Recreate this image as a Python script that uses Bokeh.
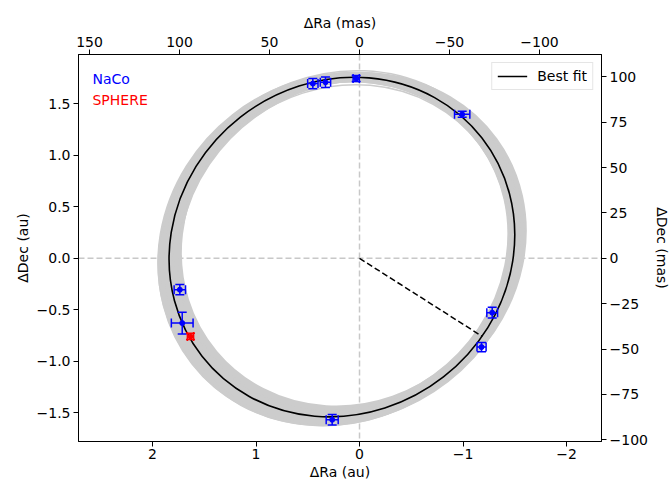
import math
from bokeh.plotting import figure
from bokeh.models import (Range1d, LinearAxis, FixedTicker, Whisker, ColumnDataSource,
                          Span, TeeHead, Legend, LegendItem)
from bokeh.embed import file_html
from bokeh.resources import INLINE
from bokeh.core.properties import value

# ---------------- data ----------------
naco_ra = [0.451, 0.329, 0.032, -0.992, -1.282, -1.179, 0.264, 1.736, 1.713]
naco_dec = [1.696, 1.709, 1.745, 1.398, -0.527, -0.861, -1.566, -0.304, -0.628]
naco_ra_err = [0.050, 0.050, 0.030, 0.074, 0.052, 0.044, 0.058, 0.055, 0.105]
naco_dec_err = [0.050, 0.050, 0.030, 0.030, 0.052, 0.044, 0.050, 0.050, 0.105]

sphere_ra = [1.633]
sphere_dec = [-0.757]
sphere_ra_err = [0.030]
sphere_dec_err = [0.030]

# best-fit projected orbit (ellipse: centre, major/minor full axes, tilt in degrees)
best_x = [0.17]
best_y = [0.11]
best_w = [3.43]
best_h = [3.20]
best_angle = [38]

# ensemble of sampled orbits (projected ellipses)
ens_x = [0.17, 0.22, 0.12, 0.20, 0.10, 0.14, 0.19, 0.15]
ens_y = [0.11, 0.10, 0.13, 0.09, 0.12, 0.14, 0.12, 0.10]
ens_w = [3.43, 3.50, 3.36, 3.54, 3.46, 3.30, 3.40, 3.52]
ens_h = [3.20, 3.22, 3.18, 3.24, 3.16, 3.14, 3.16, 3.22]
ens_angle = [38, 38, 38, 38, 36, 40, 36, 38]

thin_x = [0.15, 0.19]
thin_y = [0.10, 0.10]
thin_w = [3.30, 3.62]
thin_h = [3.08, 3.30]
thin_angle = [38, 40]

# line from the star to periastron
peri_ra = [0.0, -1.187]
peri_dec = [0.0, -0.758]

# axes ticks
au_x_ticks = [2, 1, 0, -1, -2]
au_x_labels = ["2", "1", "0", "\u22121", "\u22122"]
au_y_ticks = [-1.5, -1.0, -0.5, 0.0, 0.5, 1.0, 1.5]
au_y_labels = ["\u22121.5", "\u22121.0", "\u22120.5", "0.0", "0.5", "1.0", "1.5"]
mas_x_ticks = [150, 100, 50, 0, -50, -100]
mas_x_labels = ["150", "100", "50", "0", "\u221250", "\u2212100"]
mas_y_ticks = [100, 75, 50, 25, 0, -25, -50, -75, -100]
mas_y_labels = ["100", "75", "50", "25", "0", "\u221225", "\u221250", "\u221275", "\u2212100"]

x_lim = (2.715, -2.338)
y_lim = (-1.777, 1.978)
mas_per_au_x = 57.5
mas_per_au_y = 56.8

FONT = "DejaVu Sans"
FS = "14px"

p = figure(width=672, height=484, output_backend="svg", toolbar_location=None,
           x_range=Range1d(*x_lim), y_range=Range1d(*y_lim),
           min_border_left=78, min_border_right=71, min_border_top=54, min_border_bottom=43)
p.extra_x_ranges = {"mas_x": Range1d(x_lim[0] * mas_per_au_x, x_lim[1] * mas_per_au_x)}
p.extra_y_ranges = {"mas_y": Range1d(y_lim[0] * mas_per_au_y, y_lim[1] * mas_per_au_y)}
p.xgrid.visible = False
p.ygrid.visible = False
p.outline_line_color = "black"
p.background_fill_color = "white"
p.border_fill_color = "white"

bottom_ax = p.below[0]
left_ax = p.left[0]
top_ax = LinearAxis(x_range_name="mas_x")
right_ax = LinearAxis(y_range_name="mas_y")
p.add_layout(top_ax, "above")
p.add_layout(right_ax, "right")

def style(ax, ticks, labels, label, std=3):
    ax.ticker = FixedTicker(ticks=ticks)
    ax.major_label_overrides = {t: l for t, l in zip(ticks, labels)}
    ax.axis_label = label
    ax.axis_label_text_font = FONT
    ax.axis_label_text_font_size = FS
    ax.axis_label_text_font_style = "normal"
    ax.axis_label_text_color = "black"
    ax.major_label_text_font = FONT
    ax.major_label_text_font_size = FS
    ax.major_label_text_color = "black"
    ax.major_tick_out = 5
    ax.major_tick_in = 0
    ax.minor_tick_out = 0
    ax.minor_tick_in = 0
    ax.major_tick_line_color = "black"
    ax.axis_line_color = "black"
    ax.major_label_standoff = std
    ax.axis_label_standoff = std

style(bottom_ax, au_x_ticks, au_x_labels, "\u0394Ra (au)", std=2)
style(left_ax, au_y_ticks, au_y_labels, "\u0394Dec (au)")
style(top_ax, mas_x_ticks, mas_x_labels, "\u0394Ra (mas)")
style(right_ax, mas_y_ticks, mas_y_labels, "\u0394Dec (mas)")

# zero lines (under the orbits)
p.add_layout(Span(location=0, dimension="width", line_color="#c8c8c8", line_dash="6 3",
                  line_width=1.5, level="underlay"))
p.add_layout(Span(location=0, dimension="height", line_color="#c8c8c8", line_dash="6 3",
                  line_width=1.5, level="underlay"))

rad = lambda a: [math.radians(v) for v in a]

# ensemble
p.ellipse(x=ens_x, y=ens_y, width=ens_w, height=ens_h, angle=rad(ens_angle),
          fill_color=None, line_color="#cccccc", line_width=8)
p.ellipse(x=thin_x, y=thin_y, width=thin_w, height=thin_h, angle=rad(thin_angle),
          fill_color=None, line_color="#cccccc", line_width=1.5)

# best fit
p.ellipse(x=best_x, y=best_y, width=best_w, height=best_h, angle=rad(best_angle),
          fill_color=None, line_color="black", line_width=1.6)
legend_line = p.line(x=[float("nan")], y=[float("nan")], line_color="black", line_width=1.6)

# periastron line
p.line(peri_ra, peri_dec, line_color="black", line_dash="6 3", line_width=1.5)

# data with error bars
def errpts(ra, dec, era, edec, color):
    src = ColumnDataSource(dict(
        ra=ra, dec=dec,
        ra_lo=[r - e for r, e in zip(ra, era)], ra_hi=[r + e for r, e in zip(ra, era)],
        dec_lo=[d - e for d, e in zip(dec, edec)], dec_hi=[d + e for d, e in zip(dec, edec)]))
    for dim, base, lo, hi in (("width", "dec", "ra_lo", "ra_hi"), ("height", "ra", "dec_lo", "dec_hi")):
        w = Whisker(source=src, base=base, lower=lo, upper=hi, dimension=dim,
                    line_color=color, line_width=1.5, level="overlay",
                    upper_head=TeeHead(size=9, line_color=color, line_width=1.5),
                    lower_head=TeeHead(size=9, line_color=color, line_width=1.5))
        p.add_layout(w)
    p.scatter("ra", "dec", source=src, marker="circle", size=5, fill_color=color, line_color=color)

errpts(naco_ra, naco_dec, naco_ra_err, naco_dec_err, "#0000ff")
errpts(sphere_ra, sphere_dec, sphere_ra_err, sphere_dec_err, "#ff0000")

# instrument labels
p.text(x=[2.58], y=[1.745], text=["NaCo"], text_color="#0000ff", text_font=value(FONT),
       text_font_size=FS, text_baseline="alphabetic")
p.text(x=[2.58], y=[1.54], text=["SPHERE"], text_color="#ff0000", text_font=value(FONT),
       text_font_size=FS, text_baseline="alphabetic")

legend = Legend(items=[LegendItem(label="Best fit", renderers=[legend_line])],
                location="top_right", margin=8, padding=5, label_text_font=FONT,
                label_text_font_size=FS, label_text_color="black",
                glyph_width=30, glyph_height=14, label_height=14, label_standoff=10,
                border_line_color="#cccccc", border_line_width=1,
                background_fill_alpha=0.8)
p.add_layout(legend)

open("out.html", "w").write(file_html(p, INLINE))
